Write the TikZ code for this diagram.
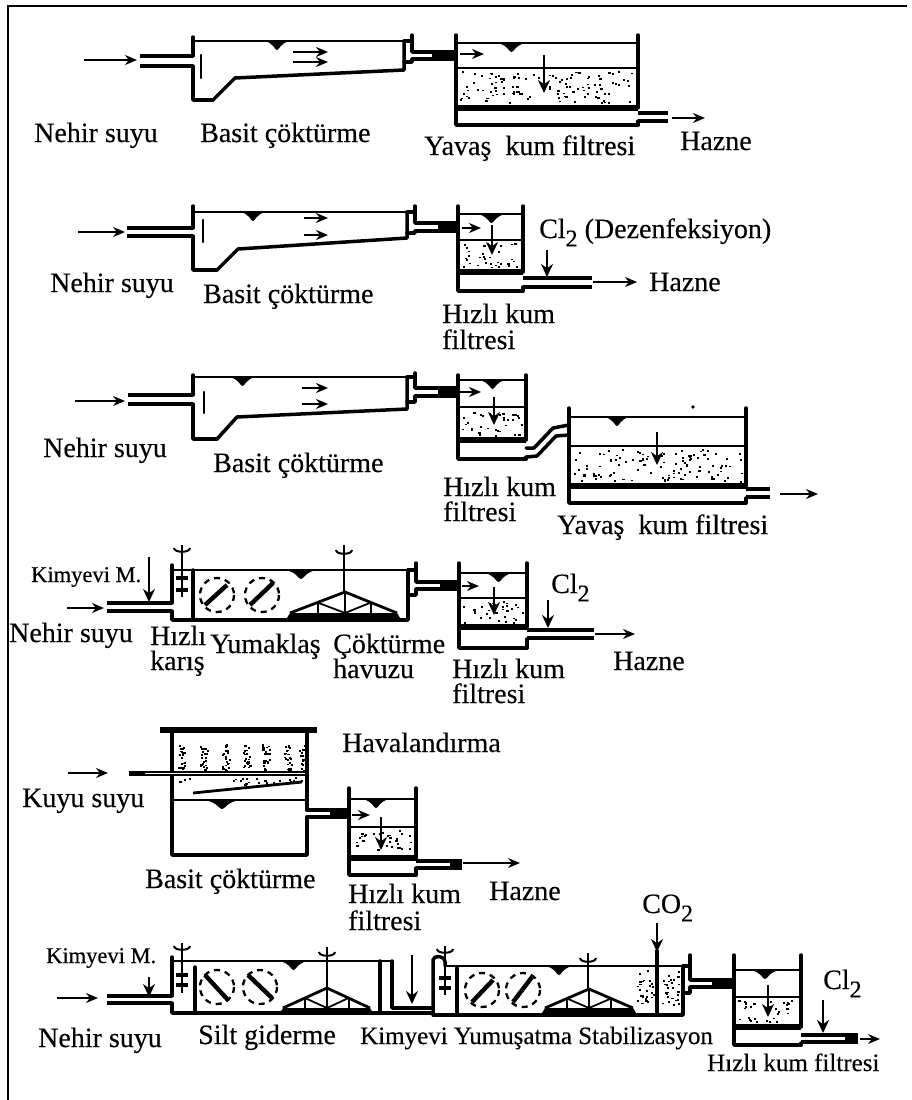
\documentclass[tikz,border=0pt]{standalone}
\usepackage{fontspec}
\setmainfont[FakeBold=0.25]{Liberation Serif}
\usetikzlibrary{arrows.meta,calc}
\tikzset{
  wall/.style={line width=3.5pt,line cap=round,line join=round},
  thinwall/.style={line width=2.3pt,line cap=round},
  pipe/.style={line width=3.3pt},
  flow/.style={line width=1.7pt,-{Stealth[length=12pt,width=10pt]}},
  drop/.style={line width=2.2pt,-{Stealth[length=13pt,width=12pt]}},
  txt/.style={anchor=base west,inner sep=0pt,font=\fontsize{28}{28}\selectfont},
  txtb/.style={txt,font=\fontsize{25}{25}\selectfont},
  txts/.style={txt,font=\fontsize{22.5}{22.5}\selectfont},
  frameline/.style={line width=1.6pt}
}
\newcommand\subtwo{\raisebox{-0.3em}{\fontsize{24}{24}\selectfont 2}}
% named flow arrow between two named coordinates
\newcommand\flowarrow[5][flow]{%
  \coordinate (#2-s) at (#3);\coordinate (#2-e) at (#4);\draw[#1] (#2-s) -- (#2-e);#5}
% water-level mark: x1, x2, y
\newcommand\wmark[3]{\pgfmathsetmacro\MkM{(#1+#2)/2}\pgfmathsetmacro\MkD{#3+9}\pgfmathsetmacro\MkE{#3+3}\pgfmathsetmacro\MkL{#1+0.4*(#2-#1)}\pgfmathsetmacro\MkR{#1+0.6*(#2-#1)}%
  \fill (#1,#3) .. controls (\MkL,\MkE) and (\MkL,\MkD) .. (\MkM,\MkD) .. controls (\MkR,\MkD) and (\MkR,\MkE) .. (#2,#3) -- cycle;}
% stipple: seed,x1,y1,x2,y2,count
\newcommand\stipple[6]{\pgfmathsetseed{#1}\foreach \n in {1,...,#6}{%
  \pgfmathsetmacro\StX{#2+rnd*(#4-#2)}\pgfmathsetmacro\StY{#3+rnd*(#5-#3)}%
  \fill (\StX,\StY) rectangle ++(2.1,1.8);}}
% filter: seed, xl, xr, ytop, ywater, ysand, ythick, ybot, yout1
\newcommand\filterbox[9]{%
  \draw[wall] (#2,#4) -- (#2,#8) -- (#3,#8);
  \draw[wall] (#3,#4) -- (#3,#7);
  \draw[thinwall] (#2,#5) -- (#3,#5);
  \draw[thinwall] (#2,#6) -- (#3,#6);
  \draw[line width=6pt] (#2,#7) -- (#3,#7);
  \draw[wall] (#3,#8) -- (#3,#9);
  \pgfmathsetmacro\FiA{#2+4}\pgfmathsetmacro\FiB{#3-5}\pgfmathsetmacro\FiC{#6+3}\pgfmathsetmacro\FiD{#7-5}\pgfmathsetmacro\FiN{int((#3-#2)*(#7-#6)/65)}%
  \stipple{#1}{\FiA}{\FiC}{\FiB}{\FiD}{\FiN}}
% plain settling tank
\newcommand\settling[9]{%
  \draw[wall] (#1,#3) -- (#1,#5) -- (#7,#5);
  \draw[wall] (#7,#6) -- (#1,#6) -- (#1,#8) -- (#9,#8);
  \draw[thinwall] (#1,#4) -- (#2,#4);}
% paddle: centre, end points
\newcommand\paddle[6]{%
  \draw[line width=4.4pt] (#3,#4) -- (#5,#6);
  \draw[line width=2.3pt,dash pattern=on 6pt off 5pt] (#1,#2) circle (17);}
% rapid-mix shaft with blades: x,ytop,ybot,yb1,yb2
\newcommand\stirrer[5]{%
  \pgfmathsetmacro\SrA{#1-8}\pgfmathsetmacro\SrB{#1+8}\pgfmathsetmacro\SrC{#2+8}\pgfmathsetmacro\SrD{#2+3}\pgfmathsetmacro\SrE{#1-6}\pgfmathsetmacro\SrF{#1+6}%
  \draw[line width=2pt] (#1,#2) -- (#1,#3);
  \draw[line width=2pt] (\SrA,\SrD) .. controls (\SrA,\SrC) and (\SrB,\SrC) .. (\SrB,\SrD);
  \draw[line width=3.6pt] (\SrE,#4) -- (\SrF,#4);
  \draw[line width=3.6pt] (\SrE,#5) -- (\SrF,#5);}
% sludge cone: peak, base left, base right, base y
\newcommand\sludgecone[5]{%
  \pgfmathsetmacro\CoL{(#1+#3)/2}\pgfmathsetmacro\CoR{(#1+#4)/2}\pgfmathsetmacro\CoY{(#2+#5)/2}%
  \draw[line width=2.8pt] (#3,#5) -- (#1,#2) -- (#4,#5);
  \draw[line width=2pt] (#1,#2) -- (#1,#5);
  \draw[line width=2pt] (\CoL,\CoY) -- (\CoL,#5);
  \draw[line width=2pt] (\CoR,\CoY) -- (\CoR,#5);
  \draw[line width=1.8pt] (\CoL,\CoY) -- (#1,#5) -- (\CoR,\CoY);
  \fill (#3,#5) -- (#4,#5) -- ++(3,5) -- ($(#3,#5)+(-3,5)$) -- cycle;}
\begin{document}
\begin{tikzpicture}[x=1pt,y=-1pt]
\useasboundingbox (0,0) rectangle (911,1100);
\fill[white] (0,0) rectangle (911,1100);
% frame
\coordinate (fa) at (8,1100);\coordinate (fb) at (8,6);\coordinate (fc) at (907,6);
\draw[frameline] (fa) -- (fb) -- (fc);
%% ROW 1
\flowarrow{ra}{84,60}{137,60}{}
\draw[pipe] (140,56) -- (193,56);\draw[pipe] (140,66) -- (193,66);
\settling{193}{404}{37}{41}{56}{66}{193}{100}{213}
\draw[wall] (213,100) -- (235,78) -- (404,70) -- (404,41);
\draw[thinwall] (201,55) -- (201,78);
\wmark{265}{289}{41}
\flowarrow{rb}{293,52}{328,52}{}
\flowarrow{rc}{293,62}{328,62}{}
\draw[wall] (404,41) -- (412,41);
\draw[wall] (412,35) -- (412,52) -- (456,52);
\draw[wall] (404,62) -- (412,62) -- (412,59) -- (456,59);
\draw[line width=7pt] (432,55.5) -- (456,55.5);
\filterbox{11}{456}{638}{35}{43}{68}{108}{125}{121}
\wmark{498}{525}{43}
\flowarrow{rd}{460,54}{484,54}{}
\flowarrow[drop]{re}{544,55}{544,93}{}
\draw[pipe] (638,113) -- (668,113);\draw[pipe] (638,121) -- (668,121);
\flowarrow{rf}{672,118}{705,118}{}
\node[txt] (t11) at (34,142) {Nehir suyu};
\node[txt] (t12) at (200,142) {Basit çöktürme};
\node[txt] (t13) at (424,155) {Yavaş\ \ kum filtresi};
\node[txt] (t14) at (680,150) {Hazne};
%% ROW 2
\flowarrow{sa}{78,232}{125,232}{}
\draw[pipe] (127,228) -- (193,228);\draw[pipe] (127,236) -- (193,236);
\settling{193}{407}{206}{212}{228}{236}{193}{270}{217}
\draw[wall] (217,270) -- (238,249) -- (407,238) -- (407,212);
\draw[thinwall] (203,220) -- (203,242);
\wmark{241}{265}{212}
\flowarrow{sb}{304,218}{328,218}{}
\flowarrow{sc}{304,235}{328,235}{}
\draw[wall] (407,212) -- (415,212);
\draw[wall] (415,206) -- (415,223) -- (458,223);
\draw[wall] (407,233) -- (415,233) -- (415,231) -- (458,231);
\draw[line width=7pt] (438,227) -- (458,227);
\filterbox{12}{458}{523}{206}{214}{240}{272}{291}{287}
\wmark{478}{505}{214}
\flowarrow{sd}{462,228}{481,228}{}
\flowarrow[drop]{se}{492,225}{492,255}{}
\draw[pipe] (523,278) -- (592,278);\draw[pipe] (523,287) -- (592,287);
\flowarrow{sf}{593,282}{637,282}{}
\flowarrow[drop]{sg}{547,250}{547,277}{}
\node[txt] (t21) at (50,292) {Nehir suyu};
\node[txt] (t22) at (203,303) {Basit çöktürme};
\node[txt] (t23) at (442,323) {Hızlı kum};
\node[txt] (t24) at (442,349) {filtresi};
\node[txt] (t25) at (539,238) {Cl\subtwo\ (Dezenfeksiyon)};
\node[txt] (t26) at (649,291) {Hazne};
%% ROW 3
\flowarrow{ua}{75,401}{125,401}{}
\draw[pipe] (128,395) -- (193,395);\draw[pipe] (128,404) -- (193,404);
\settling{193}{407}{375}{377}{395}{404}{193}{439}{217}
\draw[wall] (217,439) -- (237,417) -- (407,409) -- (407,377);
\draw[thinwall] (204,392) -- (204,413);
\wmark{230}{255}{377}
\flowarrow{ub}{302,388}{328,388}{}
\flowarrow{uc}{302,404}{328,404}{}
\draw[wall] (407,377) -- (415,377);
\draw[wall] (415,373) -- (415,388) -- (458,388);
\draw[wall] (407,402) -- (415,402) -- (415,396) -- (458,396);
\draw[line width=7pt] (438,392) -- (458,392);
\filterbox{13}{458}{526}{375}{380}{407}{440}{459}{457}
\wmark{480}{505}{380}
\flowarrow{ud}{460,392}{481,392}{}
\flowarrow[drop]{ue}{494,397}{494,425}{}
\draw[wall] (526,448) -- (534,448) -- (553,428) -- (569,425);
\draw[wall] (527,457) -- (537,456) -- (556,436) -- (569,435);
\filterbox{14}{569}{746}{408}{417}{446}{486}{503}{498}
\wmark{605}{629}{417}
\flowarrow[drop]{uf}{657,432}{657,465}{}
\draw[pipe] (746,489) -- (770,489);\draw[pipe] (746,497) -- (770,497);
\flowarrow{ug}{780,494}{818,494}{}
\fill (693,407) circle (1.8);
\node[txt] (t31) at (43,457) {Nehir suyu};
\node[txt] (t32) at (213,472) {Basit çöktürme};
\node[txt] (t33) at (443,496) {Hızlı kum};
\node[txt] (t34) at (443,521) {filtresi};
\node[txt] (t35) at (557,534) {Yavaş\ \ kum filtresi};
%% ROW 4
\flowarrow{va}{67,608}{104,608}{}
\draw[pipe] (107,603) -- (172,603);\draw[pipe] (107,611) -- (172,611);
\flowarrow[drop]{vb}{149,557}{149,602}{}
\draw[wall] (172,565) -- (172,603);
\draw[wall] (172,611) -- (172,620) -- (408,620) -- (408,570);
\draw[thinwall] (172,570) -- (408,570);
\draw[wall] (193,570) -- (193,620);
\stirrer{182}{545}{597}{578}{590}
\paddle{217}{595}{205}{605}{227}{585}
\paddle{262}{595}{250}{605}{273}{583}
\wmark{286}{316}{570}
\draw[line width=2pt] (344,545) -- (344,592);
\draw[line width=2pt] (336,550) .. controls (336,555) and (352,555) .. (352,550);
\sludgecone{345}{592}{290}{397}{613}
\draw[wall] (408,570) -- (416,570);
\draw[wall] (416,563) -- (416,582) -- (459,582);
\draw[wall] (408,595) -- (416,595) -- (416,589) -- (459,589);
\draw[line width=7pt] (440,585.5) -- (459,585.5);
\filterbox{15}{459}{527}{563}{573}{598}{627}{648}{639}
\wmark{485}{512}{573}
\flowarrow{vc}{462,586}{479,586}{}
\flowarrow[drop]{vd}{494,587}{494,615}{}
\draw[pipe] (527,630) -- (594,630);\draw[pipe] (527,638) -- (594,638);
\flowarrow{ve}{595,634}{635,634}{}
\flowarrow[drop]{vf}{548,600}{548,628}{}
\node[txts] (t41) at (31,582) {Kimyevi M.};
\node[txt] (t42) at (9,642) {Nehir suyu};
\node[txt] (t43) at (150,645) {Hızlı};
\node[txt] (t44) at (150,670) {karış};
\node[txt] (t45) at (210,653) {Yumaklaş};
\node[txt] (t46) at (333,653) {Çöktürme};
\node[txt] (t47) at (333,678) {havuzu};
\node[txt] (t48) at (452,678) {Hızlı kum};
\node[txt] (t49) at (452,703) {filtresi};
\node[txt] (t4a) at (551,593) {Cl\subtwo};
\node[txt] (t4b) at (613,670) {Hazne};
%% ROW 5
\draw[line width=5.5pt] (160,730) -- (317,730);
\draw[wall] (172,730) -- (172,855) -- (307,855) -- (307,817);
\draw[wall] (307,730) -- (307,810);
\foreach \cx/\sd in {178/21,200/22,222/23,243/24,262/25,284/26,299/27}{%
  \pgfmathsetmacro\AeY{\cx+7}\stipple{\sd}{\cx}{744}{\AeY}{770}{22}}
\stipple{28}{230}{776}{303}{785}{22}
\stipple{29}{174}{776}{200}{782}{4}
\draw[line width=5pt] (129,773) -- (305,773);
\draw[white,line width=1pt] (145,773) -- (305,773);
\draw[line width=2.8pt] (193,793) -- (302,782);
\draw[thinwall] (172,800) -- (307,800);
\wmark{205}{239}{800}
\flowarrow{wa}{68,773}{108,773}{}
\draw[wall] (307,810) -- (349,810);
\draw[wall] (307,817) -- (349,817);
\draw[line width=5pt] (330,813.5) -- (349,813.5);
\filterbox{16}{349}{416}{788}{799}{827}{858}{875}{868}
\wmark{363}{389}{799}
\flowarrow{wb}{352,815}{370,815}{}
\flowarrow[drop]{wc}{381,817}{381,850}{}
\draw[pipe] (416,861) -- (462,861);\draw[pipe] (416,868) -- (462,868);
\draw[line width=7pt] (450,864.5) -- (462,864.5);
\flowarrow{wd}{463,863}{520,863}{}
\node[txt] (t51) at (342,752) {Havalandırma};
\node[txt] (t52) at (22,807) {Kuyu suyu};
\node[txt] (t53) at (145,888) {Basit çöktürme};
\node[txt] (t54) at (348,903) {Hızlı kum};
\node[txt] (t55) at (348,930) {filtresi};
\node[txt] (t56) at (489,900) {Hazne};
%% ROW 6
\flowarrow{xa}{57,998}{98,998}{}
\draw[pipe] (107,996) -- (172,996);\draw[pipe] (107,1003) -- (172,1003);
\flowarrow[drop]{xb}{149,977}{149,997}{}
\draw[wall] (172,957) -- (172,996);
\draw[wall] (172,1003) -- (172,1013) -- (380,1013) -- (380,961);
\draw[thinwall] (172,961) -- (392,961);
\draw[wall] (195,967) -- (195,1012);
\stirrer{182}{943}{993}{975}{985}
\paddle{217}{987}{205}{975}{228}{1000}
\paddle{260}{987}{248}{975}{272}{998}
\wmark{280}{307}{961}
\draw[line width=2pt] (327,947) -- (327,988);
\draw[line width=2pt] (319,952) .. controls (319,957) and (335,957) .. (335,952);
\sludgecone{327}{988}{283}{370}{1008}
\draw[wall] (392,961) -- (392,1008) -- (433,1008);
\draw[wall] (380,1013) -- (433,1013);
\flowarrow[drop]{xc}{412,955}{412,1004}{}
\draw[wall] (433,1013) -- (433,960) .. controls (433,955) and (445,955) .. (445,962) -- (445,966);
\stirrer{445}{946}{995}{978}{988}
\draw[wall] (457,968) -- (457,1015);
\draw[thinwall] (445,966) -- (683,966);
\draw[wall] (433,1015) -- (683,1015) -- (683,966);
\paddle{482}{990}{472}{1002}{493}{980}
\paddle{523}{990}{513}{1002}{532}{977}
\wmark{546}{572}{966}
\draw[line width=2pt] (588,953) -- (588,989);
\draw[line width=2pt] (580,958) .. controls (580,963) and (596,963) .. (596,958);
\sludgecone{589}{989}{545}{633}{1008}
\stipple{31}{637}{970}{654}{1005}{26}
\stipple{32}{662}{970}{679}{1005}{26}
\flowarrow[drop]{xd}{657,923}{657,952}{}
\draw[line width=4.5pt] (657,950) -- (657,1013);
\draw[wall] (683,966) -- (690,966);
\draw[wall] (690,955) -- (690,980) -- (734,980);
\draw[wall] (683,993) -- (690,993) -- (690,987) -- (734,987);
\draw[line width=6pt] (712,983.5) -- (734,983.5);
\filterbox{17}{734}{801}{955}{970}{997}{1027}{1045}{1043}
\wmark{751}{779}{970}
\flowarrow[drop]{xe}{768,985}{768,1017}{}
\draw[pipe] (801,1035) -- (858,1035);\draw[pipe] (801,1042) -- (858,1042);
\draw[line width=7pt] (845,1038.5) -- (858,1038.5);
\flowarrow{xf}{860,1039}{880,1039}{}
\flowarrow[drop]{xg}{823,1000}{823,1033}{}
\node[txts] (t61) at (46,963) {Kimyevi M.};
\node[txt] (t62) at (38,1047) {Nehir suyu};
\node[txt] (t63) at (198,1044) {Silt giderme};
\node[txtb] (t64) at (360,1044) {Kimyevi Yumuşatma Stabilizasyon};
\node[txtb] (t65) at (707,1071) {Hızlı kum filtresi};
\node[txt] (t66) at (642,913) {CO\subtwo};
\node[txt] (t67) at (823,989) {Cl\subtwo};
\end{tikzpicture}
\end{document}
